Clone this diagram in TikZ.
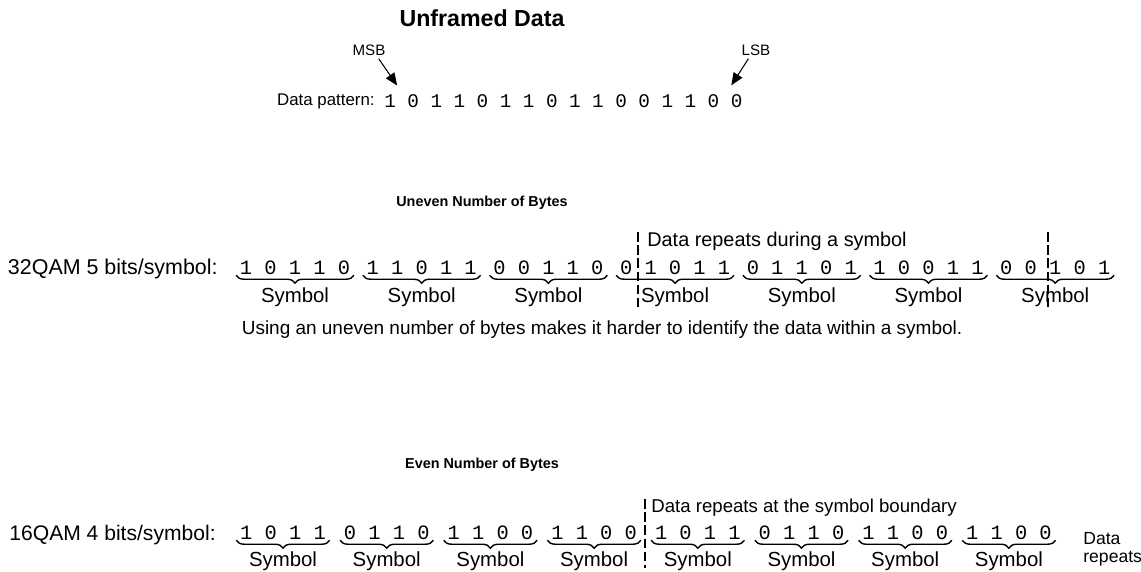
\documentclass[tikz,border=0pt]{standalone}
\usepackage{fontspec}
\setmainfont{Liberation Sans}
\setmonofont{Liberation Mono}
\usepackage{tikz}
\usetikzlibrary{calc}
\usetikzlibrary{arrows}
\usetikzlibrary{decorations.pathreplacing}
\usetikzlibrary{positioning}
\tikzset{inv/.style={opacity=0}}
\tikzset{txt/.style={font=\fontsize{11.6}{10.5}\selectfont, inner sep=0pt}}
\tikzset{bits/.style={font=\fontsize{11.6}{13}\selectfont\ttfamily, inner xsep=2pt, inner ysep=0pt}}

\begin{document}
\begin{tikzpicture}[x=0.02cm, y=-0.02cm]
\tikzstyle{ptr} = [-triangle 45, semithick]
\tikzstyle{rep} = [line width=1.3pt, dash pattern=on 5.5pt off 2pt]
\tikzstyle{grp} = [decorate, decoration={brace, mirror, amplitude=4.5pt}, thick]
\useasboundingbox (0, 0) rectangle (1141, 571);

% top: the unframed pattern
\node[font=\fontsize{13.2}{15}\selectfont\bfseries] (title) at (482, 18) {Unframed Data};
\node[txt, font=\fontsize{8.6}{10}\selectfont] (msb) at (369, 50) {MSB};
\node[txt, font=\fontsize{8.6}{10}\selectfont] (lsb) at (756, 50) {LSB};
\foreach \b [count=\i] in {1,0,1,1,0,1,1,0,1,1,0,0,1,1,0,0}
  \node[bits, font=\fontsize{11}{13}\selectfont\ttfamily] (p\i) at (367+23.1*\i, 101) {\b};
\node[txt, font=\fontsize{9.6}{12}\selectfont, anchor=east] (pat) at (375, 101) {Data pattern:};
\draw[ptr] ([xshift=-4pt, yshift=-1.7pt]msb.south east) -- ([xshift=4pt, yshift=5pt]p1.north);
\draw[ptr] ([xshift=4pt, yshift=-1.7pt]lsb.south west) -- ([xshift=-3pt, yshift=5pt]p16.north);

% 32QAM, 5 bits per symbol
\node[font=\fontsize{8.2}{10}\selectfont\bfseries] (uneven) at (482, 203) {Uneven Number of Bytes};
\node[txt, font=\fontsize{11.3}{13}\selectfont, anchor=west] (urep) at (647, 241) {Data repeats during a symbol};
\node[txt, font=\fontsize{12.2}{14}\selectfont, anchor=east] (qam32) at (218, 269) {32QAM 5 bits/symbol:};
\node[bits] (u1) at (295, 268) {1 0 1 1 0};
\node[bits] (u2) at (421.7, 268) {1 1 0 1 1};
\node[bits] (u3) at (548.4, 268) {0 0 1 1 0};
\node[bits] (u4) at (675.1, 268) {0 1 0 1 1};
\node[bits] (u5) at (801.8, 268) {0 1 1 0 1};
\node[bits] (u6) at (928.5, 268) {1 0 0 1 1};
\node[bits] (u7) at (1055.2, 268) {0 0 1 0 1};
\draw[grp] (u1.south west) -- (u1.south east) node[txt, midway, below=6.5pt] (us1) {Symbol};
\draw[grp] (u2.south west) -- (u2.south east) node[txt, midway, below=6.5pt] (us2) {Symbol};
\draw[grp] (u3.south west) -- (u3.south east) node[txt, midway, below=6.5pt] (us3) {Symbol};
\draw[grp] (u4.south west) -- (u4.south east) node[txt, midway, below=6.5pt] (us4) {Symbol};
\draw[grp] (u5.south west) -- (u5.south east) node[txt, midway, below=6.5pt] (us5) {Symbol};
\draw[grp] (u6.south west) -- (u6.south east) node[txt, midway, below=6.5pt] (us6) {Symbol};
\draw[grp] (u7.south west) -- (u7.south east) node[txt, midway, below=6.5pt] (us7) {Symbol};
\draw[rep] (638, 232) -- (638, 307);
\draw[rep] (1048, 232) -- (1048, 307);
\node[txt, font=\fontsize{10.8}{13}\selectfont] (note) at (602, 330) {Using an uneven number of bytes makes it harder to identify the data within a symbol.};

% 16QAM, 4 bits per symbol
\node[font=\fontsize{8.2}{10}\selectfont\bfseries] (even) at (482, 465) {Even Number of Bytes};
\node[txt, font=\fontsize{10.6}{13}\selectfont, anchor=west] (erep) at (651, 508) {Data repeats at the symbol boundary};
\node[txt, font=\fontsize{12}{14}\selectfont, anchor=east] (qam16) at (216, 535) {16QAM 4 bits/symbol:};
\node[bits] (e1) at (283, 533) {1 0 1 1};
\node[bits] (e2) at (386.7, 533) {0 1 1 0};
\node[bits] (e3) at (490.4, 533) {1 1 0 0};
\node[bits] (e4) at (594.1, 533) {1 1 0 0};
\node[bits] (e5) at (697.8, 533) {1 0 1 1};
\node[bits] (e6) at (801.5, 533) {0 1 1 0};
\node[bits] (e7) at (905.2, 533) {1 1 0 0};
\node[bits] (e8) at (1008.9, 533) {1 1 0 0};
\draw[grp] (e1.south west) -- (e1.south east) node[txt, midway, below=6pt] (es1) {Symbol};
\draw[grp] (e2.south west) -- (e2.south east) node[txt, midway, below=6pt] (es2) {Symbol};
\draw[grp] (e3.south west) -- (e3.south east) node[txt, midway, below=6pt] (es3) {Symbol};
\draw[grp] (e4.south west) -- (e4.south east) node[txt, midway, below=6pt] (es4) {Symbol};
\draw[grp] (e5.south west) -- (e5.south east) node[txt, midway, below=6pt] (es5) {Symbol};
\draw[grp] (e6.south west) -- (e6.south east) node[txt, midway, below=6pt] (es6) {Symbol};
\draw[grp] (e7.south west) -- (e7.south east) node[txt, midway, below=6pt] (es7) {Symbol};
\draw[grp] (e8.south west) -- (e8.south east) node[txt, midway, below=6pt] (es8) {Symbol};
\draw[rep] (645, 499) -- (645, 568);
\node[txt, font=\fontsize{10}{10.3}\selectfont, anchor=west, align=left] (erep2) at (1083, 549) {Data\\repeats};

%\node[txt] at (482, 380) {Framed Data};
\end{tikzpicture}
\end{document}
